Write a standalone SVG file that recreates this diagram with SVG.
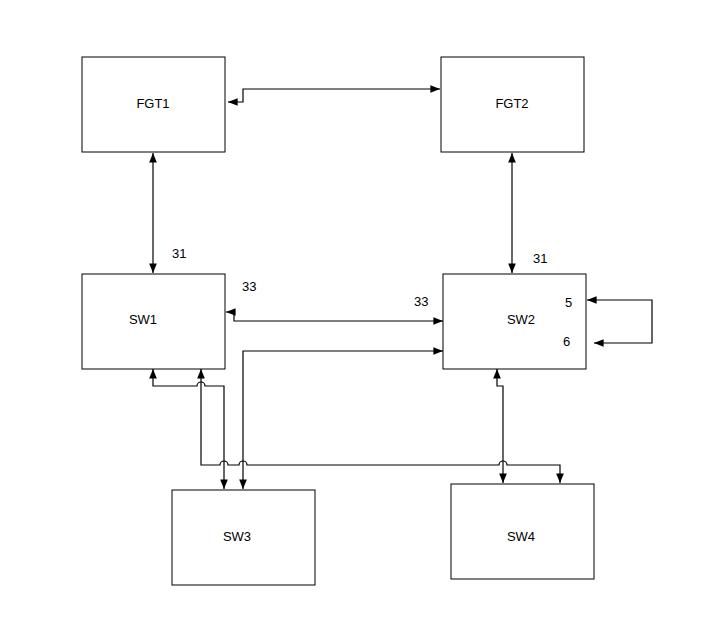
<svg xmlns="http://www.w3.org/2000/svg" width="707" height="639" viewBox="0 0 707 639">
<style>
rect{fill:#fff;stroke:#000;stroke-width:1}
text{font-family:"Liberation Sans",Arial,sans-serif;font-size:13px;fill:#000}
.c{text-anchor:middle}
#conn path{fill:none;stroke:#000;stroke-width:1.2}
</style>
<defs><marker id="a" viewBox="0 0 10 10" refX="10" refY="5" markerWidth="8" markerHeight="8" orient="auto-start-reverse"><path d="M0,1 L10,5 L0,9z" fill="#000"/></marker></defs>
<rect width="707" height="639" style="stroke:none"/>
<g id="FGT1"><rect x="82" y="57" width="143" height="95"/><text class="c" x="153" y="108">FGT1</text></g>
<g id="FGT2"><rect x="441" y="57" width="143" height="95"/><text class="c" x="512" y="108">FGT2</text></g>
<g id="SW1"><rect x="82" y="274" width="143" height="95"/><text class="c" x="143" y="324">SW1</text></g>
<g id="SW2"><rect x="443" y="274" width="143" height="95"/><text class="c" x="521" y="324">SW2</text><text x="565" y="307">5</text><text x="563" y="346">6</text></g>
<g id="SW3"><rect x="172" y="490" width="143" height="95"/><text class="c" x="237" y="541">SW3</text></g>
<g id="SW4"><rect x="451" y="484" width="143" height="95"/><text class="c" x="521" y="541">SW4</text></g>
<g id="labels"><text x="172" y="258">31</text><text x="533" y="263">31</text><text x="242" y="291">33</text><text x="414" y="306">33</text></g>
<g id="conn">
<path d="M228,102 H243 V89 H440" marker-start="url(#a)" marker-end="url(#a)"/>
<path d="M153,153 V273" marker-start="url(#a)" marker-end="url(#a)"/>
<path d="M512,153 V273" marker-start="url(#a)" marker-end="url(#a)"/>
<path d="M226,312 H234 V321 H443" marker-start="url(#a)" marker-end="url(#a)"/>
<path d="M243,489 V351 H443" marker-start="url(#a)" marker-end="url(#a)"/>
<path d="M153,369 V386 H197 a4,4 0 0 1 8,0 H224 V489" marker-start="url(#a)" marker-end="url(#a)"/>
<path d="M201,369 V465 H220 a4,4 0 0 1 8,0 H239 a4,4 0 0 1 8,0 H499 a4,4 0 0 1 8,0 H560 V483" marker-start="url(#a)" marker-end="url(#a)"/>
<path d="M497,369 V386 H503 V483" marker-start="url(#a)" marker-end="url(#a)"/>
<path d="M587,300 H652 V343 H594" marker-start="url(#a)" marker-end="url(#a)"/>
</g>
</svg>
